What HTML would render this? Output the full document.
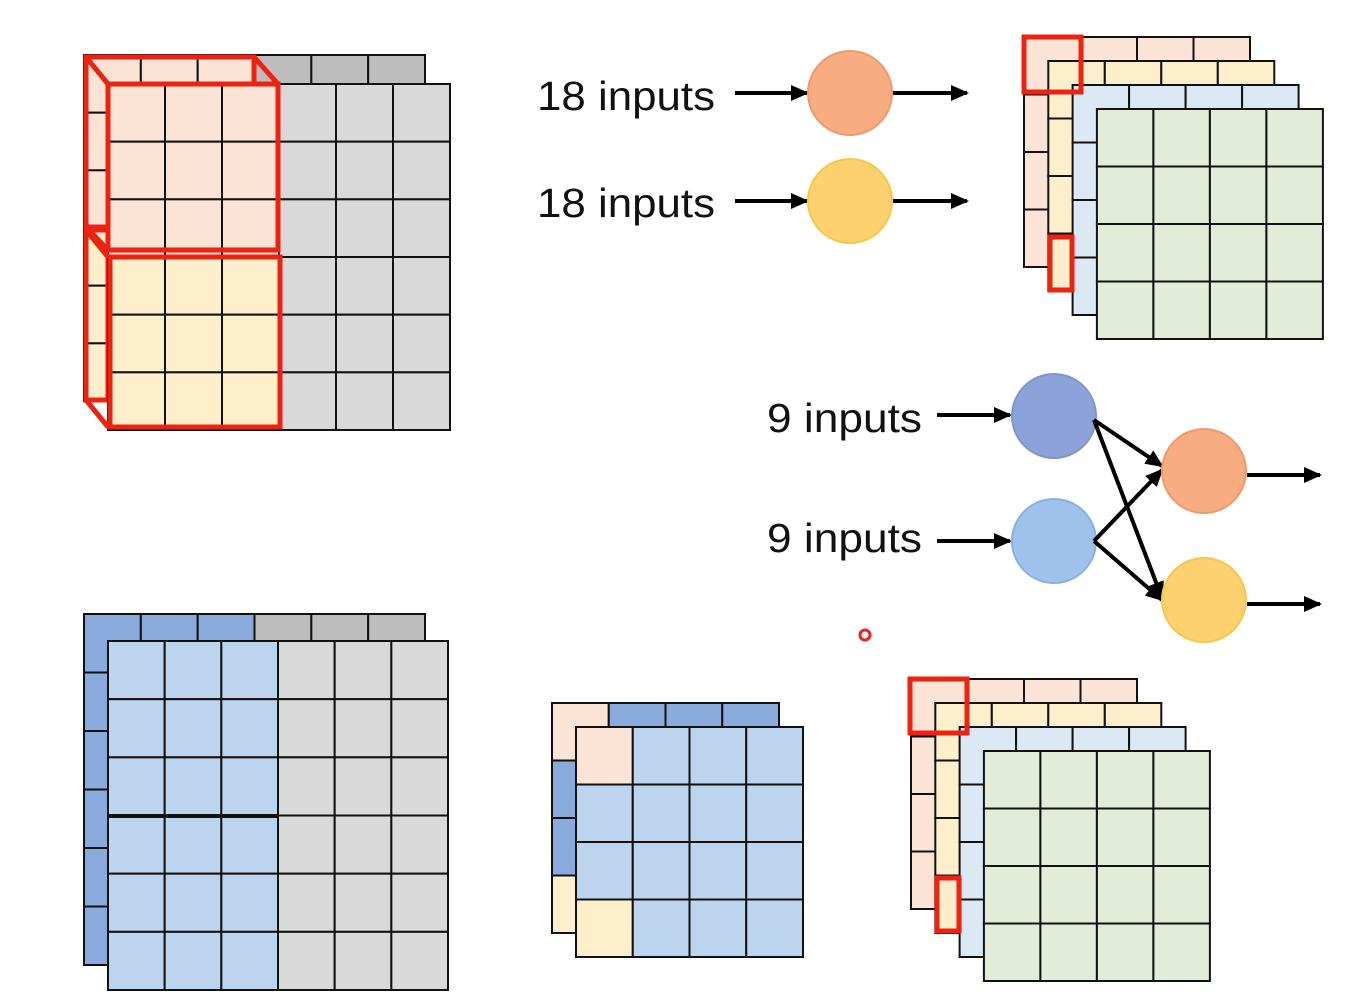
<!DOCTYPE html>
<html><head><meta charset="utf-8"><style>
html,body{margin:0;padding:0;background:#fff;}
svg{display:block;}
text{font-family:"Liberation Sans","DejaVu Sans",sans-serif;}
</style></head><body>
<svg id="s" width="1369" height="1006" viewBox="0 0 1369 1006" xmlns="http://www.w3.org/2000/svg">
<defs><marker id="ah" markerWidth="20" markerHeight="16" refX="16" refY="8" orient="auto" markerUnits="userSpaceOnUse"><path d="M0,0 L18,8 L0,16 z" fill="#000"/></marker></defs>
</svg>
<script>
const NS='http://www.w3.org/2000/svg';
const svg=document.getElementById('s');
const PINK='#fbe4d6',YEL='#fdefcb',LB='#bcd4ee',DB='#8aa9dc',G='#d9d9d9',DG='#bdbdbd',PB='#dde8f5',GR='#e2ecd8',RED='#ee2211';
function el(tag,attrs,parent){const e=document.createElementNS(NS,tag);for(const k in attrs)e.setAttribute(k,attrs[k]);(parent||svg).appendChild(e);return e;}
function grid(name,x,y,w,h,cols,rows,fill){
  const g=el('g',{});
  
  
  const cw=w/cols,rh=h/rows;
  for(let r=0;r<rows;r++)for(let c=0;c<cols;c++){
    el('rect',{x:x+c*cw,y:y+r*rh,width:cw,height:rh,fill:fill(c,r),stroke:'#111','stroke-width':2},g);
  }
  return g;
}
function redRect(name,x,y,w,h){const r=el('rect',{x:x,y:y,width:w,height:h,fill:'none',stroke:RED,'stroke-width':5});

}
function line(x1,y1,x2,y2,c,w,arrow){const l=el('line',{x1:x1,y1:y1,x2:x2,y2:y2,stroke:c,'stroke-width':w});if(arrow)l.setAttribute('marker-end','url(#ah)');return l;}
function txt(name,x,y,s,len){const t=el('text',{x:x,y:y,'font-size':41,fill:'#111',textLength:len,lengthAdjust:'spacingAndGlyphs'});t.textContent=s;

}
function circ(name,cx,cy,fill,stroke){const c=el('circle',{cx:cx,cy:cy,r:42,fill:fill,stroke:stroke,'stroke-width':2});

}

// ---- top-left input volume
grid('input-back-layer',84,55,341,346,6,6,(c,r)=>c<3&&r<3?PINK:(c<3&&r<6?YEL:DG));
redRect('filter-box-back-top',86,57,168,170);
redRect('filter-box-back-bottom',86,230,22,170);
grid('input-front-layer',108,84,342,346,6,6,(c,r)=>c<3&&r<3?PINK:(c<3?YEL:G));
line(86,57,108,84,RED,5);line(254,57,278,84,RED,5);line(86,227,108,250,RED,5);
redRect('filter-box-front-top',108,84,170,166);
line(86,230,108,257,RED,5);line(86,400,108,427,RED,5);
redRect('filter-box-front-bottom',110,257,170,170);

// ---- 18 inputs
txt('label-18-inputs-1',537,110,'18 inputs',178);
txt('label-18-inputs-2',537,217,'18 inputs',178);
line(735,93,807,93,'#000',4,true);line(893,93,967,93,'#000',4,true);
line(735,201,807,201,'#000',4,true);line(893,201,967,201,'#000',4,true);
circ('neuron-orange-top',850,93,'#f8ac82','#ee9a6a');
circ('neuron-yellow-top',850,201,'#fdd070','#f5c84a');

// ---- top-right output stack
function stack(prefix,x0,y0){
  const fills=[PINK,YEL,PB,GR];
  for(let i=0;i<4;i++)grid(prefix+'-layer-'+(i+1),x0+i*24.3,y0+i*24,226,230,4,4,()=>fills[i]);
}
stack('output-stack-top',1024,37);
redRect('output-top-red-cell-1',1024,37,57,55);
redRect('output-top-red-cell-2',1050,237,22,53);

// ---- 9 inputs
txt('label-9-inputs-1',767,432,'9 inputs',155);
txt('label-9-inputs-2',767,552,'9 inputs',155);
line(937,415,1010,415,'#000',4,true);line(937,541,1010,541,'#000',4,true);
circ('neuron-blue-dark',1054,416,'#8da2d8','#7f95cc');
circ('neuron-blue-light',1054,541,'#9ec2ec','#8ab2e0');
line(1094,420,1162,466,'#000',4,true);line(1094,420,1162,598,'#000',4,true);
line(1094,541,1162,470,'#000',4,true);line(1094,541,1162,600,'#000',4,true);
circ('neuron-orange-right',1204,471,'#f8ac82','#ee9a6a');
circ('neuron-yellow-right',1204,600,'#fdd070','#f5c84a');
line(1247,475,1320,475,'#000',4,true);line(1247,604,1320,604,'#000',4,true);

const d=el('circle',{cx:865,cy:635,r:5,fill:'none',stroke:'#e22','stroke-width':3});



// ---- bottom-left grouped input
grid('grouped-input-back',84,614,341,351,6,6,(c,r)=>c<3?DB:DG);
grid('grouped-input-front',108,641,340,349,6,6,(c,r)=>c<3?LB:G);
line(108,816,278,816,'#111',4);

// ---- bottom-middle
grid('grouped-mid-back',552,703,227,230,4,4,(c,r)=>(c==0&&r==0)?PINK:(c==0&&r==3?YEL:DB));
grid('grouped-mid-front',576,727,227,230,4,4,(c,r)=>(c==0&&r==0)?PINK:(c==0&&r==3?YEL:LB));

// ---- bottom-right stack
stack('output-stack-bottom',911,679);
redRect('output-bottom-red-cell-1',910,679,57,54);
redRect('output-bottom-red-cell-2',937,878,22,53);
</script>
</body></html>
